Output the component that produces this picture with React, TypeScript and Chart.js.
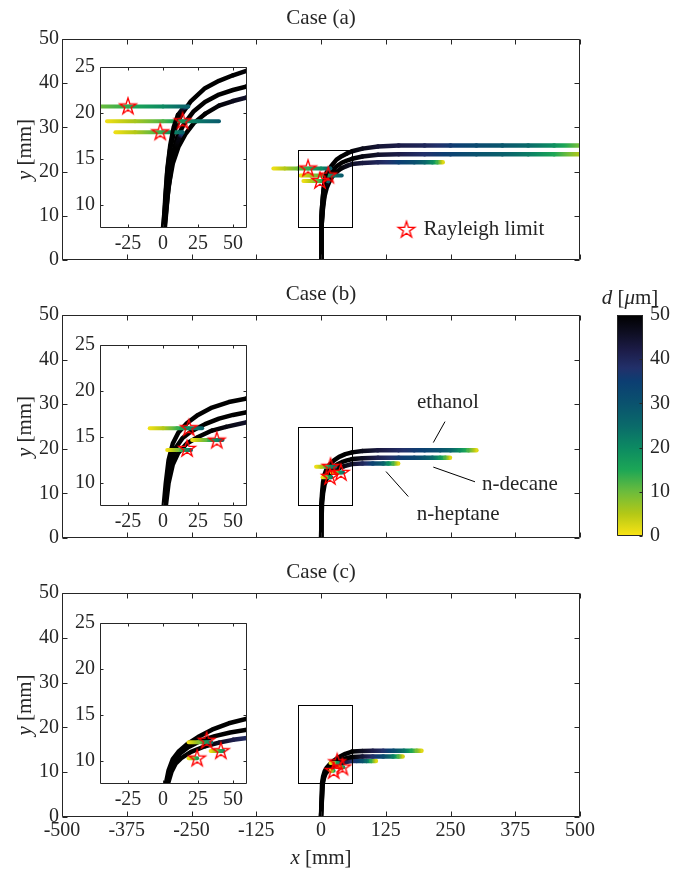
import React, { useEffect, useRef } from 'react';
import { Chart, registerables } from 'chart.js';
Chart.register(...registerables);

const FONT_FAMILY = '"Liberation Serif", "Times New Roman", serif';
const FONT_SIZE = 20;
const LABEL_SIZE = 21;
const INK = '#262626';

// ---------- axes ----------
const MAIN_X_TICKS = [-500, -375, -250, -125, 0, 125, 250, 375, 500];
const MAIN_Y_TICKS = [0, 10, 20, 30, 40, 50];
const INSET_X_RANGE = [-45, 60];
const INSET_Y_RANGE = [7.5, 25];
const INSET_X_TICKS = [-25, 0, 25, 50];
const INSET_Y_TICKS = [10, 15, 20, 25];
const CBAR_TICKS = [0, 10, 20, 30, 40, 50];
const CASE_TITLES = ['Case (a)', 'Case (b)', 'Case (c)'];

// ---------- colormap (d in micrometres) ----------
const CMAP_VALUES = [0, 5, 10, 15, 20, 25, 30, 35, 38, 42, 46, 50];
const CMAP_COLORS = ['#fbe414', '#b4c816', '#6cbc3c', '#1ca656', '#0c8a62', '#0a6a6a', '#0a526e', '#0c3e72', '#22306a', '#1c1c48', '#0e0e22', '#000000'];

// ---------- Case (a) ----------
const A_ETH_X = [0, 0, 1.5, 3, 5, 8, 13, 20, 30, 40, 50, 60, 80, 110, 150, 200, 250, 300, 350, 400, 450, 500];
const A_ETH_Y = [0, 7.5, 10, 13.5, 16, 18, 19.8, 21.3, 22.7, 23.5, 24.1, 24.6, 25.2, 25.7, 25.9, 25.9, 25.9, 25.9, 25.9, 25.9, 25.9, 25.9];
const A_ETH_D = [50, 50, 50, 50, 50, 50, 50, 50, 50, 50, 50, 49, 47, 44, 42, 40, 36, 32, 29, 25, 19, 9];
const A_DEC_X = [0, 0.5, 3, 6, 10, 15, 22, 30, 40, 50, 60, 80, 110, 150, 200, 250, 300, 350, 400, 450, 500];
const A_DEC_Y = [0, 7.5, 12, 15, 17.3, 18.8, 20.2, 21.2, 22, 22.5, 22.9, 23.4, 23.8, 23.9, 23.9, 23.9, 23.9, 23.9, 23.9, 23.9, 23.9];
const A_DEC_D = [50, 50, 50, 50, 50, 50, 50, 50, 50, 50, 50, 48, 45, 42, 38, 34, 30, 27, 22, 15, 5];
const A_HEP_X = [0, 1, 4, 7, 11, 16, 22, 30, 40, 50, 60, 80, 110, 150, 180, 200, 215, 225, 235];
const A_HEP_Y = [0, 7.5, 12, 14.5, 16.3, 17.7, 18.9, 19.9, 20.8, 21.3, 21.7, 21.95, 22.1, 22.1, 22.1, 22.1, 22.1, 22.1, 22.1];
const A_HEP_D = [50, 50, 50, 50, 50, 50, 50, 50, 49, 47, 45, 43, 40, 35, 31, 26, 20, 13, 2];
const A_FRAG1_X = [0, 0.3, 1.5, 3, 5, 7.5, 10.5, 14, 18, 0, -25, -45, -70, -92];
const A_FRAG1_Y = [0, 7.5, 11, 14, 16.5, 18.5, 19.8, 20.5, 20.7, 20.7, 20.7, 20.7, 20.7, 20.7];
const A_FRAG1_D = [50, 50, 50, 50, 50, 50, 50, 46, 27, 20, 14, 10, 5, 1];
const A_FRAG2_X = [40, 25, 14, 0, -20, -40];
const A_FRAG2_Y = [19.1, 19.1, 19.1, 19.1, 19.1, 19.1];
const A_FRAG2_D = [28, 23, 18, 12, 6, 1];
const A_FRAG3_X = [0, 1.5, 3.5, 6, 9, 11.5, 14, 0, -20, -34];
const A_FRAG3_Y = [0, 7.5, 11, 14, 16.2, 17.3, 17.9, 17.9, 17.9, 17.9];
const A_FRAG3_D = [50, 50, 50, 50, 50, 48, 26, 14, 5, 1];
const A_STAR_X = [-25, 14, -2];
const A_STAR_Y = [20.7, 19.1, 17.9];

// ---------- Case (b) ----------
const B_ETH_X = [0, 0.5, 2, 4, 7, 11, 17, 25, 35, 47, 60, 80, 110, 150, 180, 200, 230, 250, 268, 285, 300];
const B_ETH_Y = [0, 7.5, 10, 12.5, 14.3, 15.5, 16.5, 17.4, 18.2, 18.8, 19.2, 19.5, 19.65, 19.7, 19.7, 19.7, 19.7, 19.7, 19.7, 19.7, 19.7];
const B_ETH_D = [50, 50, 50, 50, 50, 50, 50, 50, 50, 50, 50, 47, 43, 39, 36, 34, 30, 26, 20, 12, 2];
const B_DEC_X = [0, 1, 3, 5, 9, 14, 20, 30, 40, 50, 60, 80, 110, 150, 180, 200, 215, 230, 240, 249];
const B_DEC_Y = [0, 7.5, 10, 12, 13.8, 14.9, 15.6, 16.4, 17, 17.4, 17.7, 17.9, 18, 18, 18, 18, 18, 18, 18, 18];
const B_DEC_D = [50, 50, 50, 50, 50, 50, 50, 50, 50, 50, 50, 46, 41, 36, 33, 29, 25, 18, 12, 2];
const B_HEP_X = [0, 2, 4, 7, 11, 17, 25, 35, 45, 60, 80, 100, 120, 130, 140, 149];
const B_HEP_Y = [0, 7.5, 10, 12, 13.3, 14.3, 15, 15.7, 16.1, 16.6, 16.7, 16.7, 16.7, 16.7, 16.7, 16.7];
const B_HEP_D = [50, 50, 50, 50, 50, 50, 50, 50, 48, 45, 40, 34, 27, 20, 12, 2];
const B_FRAG1_X = [28, 18.4, 10, 0, -9.5];
const B_FRAG1_Y = [15.96, 15.96, 15.96, 15.96, 15.96];
const B_FRAG1_D = [26, 20, 13, 5, 1];
const B_FRAG2_X = [42.5, 38.4, 30, 20.8];
const B_FRAG2_Y = [14.67, 14.67, 14.67, 14.67];
const B_FRAG2_D = [25, 21, 10, 1];
const B_FRAG3_X = [20, 17.2, 10, 3];
const B_FRAG3_Y = [13.6, 13.6, 13.6, 13.6];
const B_FRAG3_D = [25, 20, 8, 1];
const B_STAR_X = [18.4, 38.4, 17.2];
const B_STAR_Y = [15.96, 14.6, 13.7];

// ---------- Case (c) ----------
const C_ETH_X = [0, 2, 4, 7, 11, 17, 25, 35, 47, 60, 80, 100, 120, 140, 160, 175, 185, 194];
const C_ETH_Y = [0, 7.5, 9, 10.2, 11, 11.8, 12.6, 13.4, 14.1, 14.6, 14.75, 14.8, 14.8, 14.8, 14.8, 14.8, 14.8, 14.8];
const C_ETH_D = [50, 50, 50, 50, 50, 50, 50, 50, 50, 50, 46, 42, 38, 32, 24, 15, 9, 2];
const C_DEC_X = [0, 3, 5, 8, 12, 18, 27, 37, 48, 60, 80, 100, 120, 139, 150, 157.6];
const C_DEC_Y = [0, 7.5, 9, 10, 10.8, 11.5, 12.2, 12.7, 13.1, 13.4, 13.5, 13.5, 13.5, 13.5, 13.5, 13.5];
const C_DEC_D = [50, 50, 50, 50, 50, 50, 50, 50, 50, 50, 44, 38, 32, 22, 12, 3];
const C_HEP_X = [0, 3.5, 6, 9, 13, 20, 30, 40, 50, 60, 69, 80, 88, 97, 106];
const C_HEP_Y = [0, 7.5, 8.8, 9.7, 10.3, 11, 11.6, 12, 12.3, 12.5, 12.5, 12.5, 12.5, 12.5, 12.5];
const C_HEP_D = [50, 50, 50, 50, 50, 50, 50, 46, 42, 39, 36, 30, 25, 14, 2];
const C_FRAG1_X = [34.5, 31.2, 25, 18.3];
const C_FRAG1_Y = [12.05, 12.05, 12.05, 12.05];
const C_FRAG1_D = [24, 18, 8, 1];
const C_FRAG2_X = [43.2, 41.3, 38, 34];
const C_FRAG2_Y = [11.1, 11.1, 11.1, 11.1];
const C_FRAG2_D = [20, 16, 8, 1];
const C_FRAG3_X = [24.4, 21, 18.3];
const C_FRAG3_Y = [10.3, 10.3, 10.3];
const C_FRAG3_D = [16, 7, 1];
const C_STAR_X = [31.2, 41.3, 24.4];
const C_STAR_Y = [12.2, 11.06, 10.26];

// ---------- text annotations (data coordinates) ----------
const LEGEND_LABEL = 'Rayleigh limit';
const LEGEND_X = 165;
const LEGEND_Y = 6.8;
const ANNOT_TEXT = ['ethanol', 'n-decane', 'n-heptane'];
const ANNOT_TX = [245, 384, 265];
const ANNOT_TY = [30.3, 11.9, 5.2];
const ANNOT_LX0 = [239.4, 216.8, 125.5];
const ANNOT_LY0 = [26.1, 15.9, 14.9];
const ANNOT_LX1 = [216.8, 297.3, 168.5];
const ANNOT_LY1 = [21.4, 12.6, 9.3];

const CASES = [
  {
    main: [[A_ETH_X, A_ETH_Y, A_ETH_D], [A_DEC_X, A_DEC_Y, A_DEC_D], [A_HEP_X, A_HEP_Y, A_HEP_D]],
    frag: [[A_FRAG1_X, A_FRAG1_Y, A_FRAG1_D], [A_FRAG2_X, A_FRAG2_Y, A_FRAG2_D], [A_FRAG3_X, A_FRAG3_Y, A_FRAG3_D]],
    starX: A_STAR_X, starY: A_STAR_Y,
  },
  {
    main: [[B_ETH_X, B_ETH_Y, B_ETH_D], [B_DEC_X, B_DEC_Y, B_DEC_D], [B_HEP_X, B_HEP_Y, B_HEP_D]],
    frag: [[B_FRAG1_X, B_FRAG1_Y, B_FRAG1_D], [B_FRAG2_X, B_FRAG2_Y, B_FRAG2_D], [B_FRAG3_X, B_FRAG3_Y, B_FRAG3_D]],
    starX: B_STAR_X, starY: B_STAR_Y,
  },
  {
    main: [[C_ETH_X, C_ETH_Y, C_ETH_D], [C_DEC_X, C_DEC_Y, C_DEC_D], [C_HEP_X, C_HEP_Y, C_HEP_D]],
    frag: [[C_FRAG1_X, C_FRAG1_Y, C_FRAG1_D], [C_FRAG2_X, C_FRAG2_Y, C_FRAG2_D], [C_FRAG3_X, C_FRAG3_Y, C_FRAG3_D]],
    starX: C_STAR_X, starY: C_STAR_Y,
  },
];

// layout (pixels)
const MAIN_LAYOUT = [
  { top: 0, height: 280, padTop: 39, padBottom: 20, showX: false },
  { top: 280, height: 280, padTop: 35, padBottom: 22, showX: false },
  { top: 560, height: 310, padTop: 33, padBottom: 23, showX: true },
];
const INSET_TOPS = [50, 328, 606];

function hexToRgb(h: string) {
  const n = parseInt(h.slice(1), 16);
  return [(n >> 16) & 255, (n >> 8) & 255, n & 255];
}
const CMAP_RGB = CMAP_COLORS.map(hexToRgb);
function cmap(d: number) {
  const v = Math.max(0, Math.min(50, d));
  let i = 0;
  while (i < CMAP_VALUES.length - 2 && v > CMAP_VALUES[i + 1]) i++;
  const t = (v - CMAP_VALUES[i]) / (CMAP_VALUES[i + 1] - CMAP_VALUES[i]);
  const a = CMAP_RGB[i], b = CMAP_RGB[i + 1];
  const c = a.map((x, k) => Math.round(x + (b[k] - x) * t));
  return `rgb(${c[0]},${c[1]},${c[2]})`;
}

function segColor(ctx: any, d: number[]) {
  const d0 = d[ctx.p0DataIndex], d1 = d[ctx.p1DataIndex];
  if (d0 === d1) return cmap(d0);
  const g = ctx.chart.ctx.createLinearGradient(ctx.p0.x, ctx.p0.y, ctx.p1.x, ctx.p1.y);
  for (let k = 0; k <= 8; k++) {
    const t = k / 8;
    g.addColorStop(t, cmap(d0 + (d1 - d0) * t));
  }
  return g;
}

function makeStar(R = 8.6) {
  const size = Math.ceil(2 * R + 4);
  const c = document.createElement('canvas');
  c.width = size; c.height = size;
  const g = c.getContext('2d') as CanvasRenderingContext2D;
  const cx = size / 2, cy = size / 2;
  const r = R * 0.382;
  g.beginPath();
  for (let k = 0; k < 10; k++) {
    const ang = -Math.PI / 2 + (k * Math.PI) / 5;
    const rad = k % 2 === 0 ? R : r;
    const px = cx + rad * Math.cos(ang), py = cy + rad * Math.sin(ang);
    if (k === 0) g.moveTo(px, py); else g.lineTo(px, py);
  }
  g.closePath();
  g.strokeStyle = '#ff0000';
  g.lineWidth = 1.4;
  g.stroke();
  return c;
}

function buildDatasets(c: any, star: any) {
  const ds: any[] = [];
  ds.push({
    data: c.starX.map((x: number, i: number) => ({ x, y: c.starY[i] })),
    showLine: false, pointStyle: star, pointRadius: 9, order: 0, clip: 0,
  });
  c.frag.forEach((t: any) => {
    const [X, Y, D] = t;
    ds.push({
      data: X.map((x: number, i: number) => ({ x, y: Y[i] })),
      showLine: true, pointRadius: 0, borderWidth: 4, borderColor: '#000', tension: 0,
      borderCapStyle: 'round', borderJoinStyle: 'round', order: 1, clip: 0,
      segment: { borderColor: (ctx: any) => segColor(ctx, D) },
    });
  });
  c.main.forEach((t: any) => {
    const [X, Y, D] = t;
    ds.push({
      data: X.map((x: number, i: number) => ({ x, y: Y[i] })),
      showLine: true, pointRadius: 0, borderWidth: 4.5, borderColor: '#000', tension: 0,
      borderCapStyle: 'round', borderJoinStyle: 'round', order: 2, clip: 0,
      segment: { borderColor: (ctx: any) => segColor(ctx, D) },
    });
  });
  return ds;
}

const font = (italic = false, size = LABEL_SIZE) => `${italic ? 'italic ' : ''}${size}px ${FONT_FAMILY}`;

function drawMixed(ctx: CanvasRenderingContext2D, parts: [string, boolean][], cx: number, cy: number, rot = 0) {
  ctx.save();
  ctx.translate(cx, cy);
  ctx.rotate(rot);
  ctx.textBaseline = 'middle';
  ctx.textAlign = 'left';
  ctx.fillStyle = INK;
  let total = 0;
  const widths = parts.map(([s, it]) => { ctx.font = font(it); const w = ctx.measureText(s).width; total += w; return w; });
  let x = -total / 2;
  parts.forEach(([s, it], i) => { ctx.font = font(it); ctx.fillText(s, x, 0); x += widths[i]; });
  ctx.restore();
}

function drawBox(ctx: CanvasRenderingContext2D, a: any, xs: any, ys: any, xt: number[], yt: number[], len: number) {
  ctx.save();
  ctx.strokeStyle = INK;
  ctx.lineWidth = 1;
  const L = Math.round(a.left) + 0.5, R = Math.round(a.right) - 0.5;
  const T = Math.round(a.top) + 0.5, B = Math.round(a.bottom) - 0.5;
  ctx.beginPath();
  ctx.rect(L, T, R - L, B - T);
  xt.forEach((v) => {
    const p = Math.round(xs.getPixelForValue(v)) + 0.5;
    ctx.moveTo(p, B); ctx.lineTo(p, B - len);
    ctx.moveTo(p, T); ctx.lineTo(p, T + len);
  });
  yt.forEach((v) => {
    const p = Math.round(ys.getPixelForValue(v)) + 0.5;
    ctx.moveTo(L, p); ctx.lineTo(L + len, p);
    ctx.moveTo(R, p); ctx.lineTo(R - len, p);
  });
  ctx.stroke();
  ctx.restore();
}

function tickFont() { return { family: FONT_FAMILY, size: FONT_SIZE }; }

function mainConfig(idx: number, star: any) {
  const L = MAIN_LAYOUT[idx];
  const c = CASES[idx];
  const plugin = {
    id: 'mainDecor' + idx,
    afterDraw(chart: any) {
      const { ctx, chartArea: a, scales } = chart;
      const xs = scales.x, ys = scales.y;
      drawBox(ctx, a, xs, ys, MAIN_X_TICKS, MAIN_Y_TICKS, 5);
      ctx.save();
      // zoom rectangle
      const rx0 = xs.getPixelForValue(INSET_X_RANGE[0]), rx1 = xs.getPixelForValue(INSET_X_RANGE[1]);
      const ry0 = ys.getPixelForValue(INSET_Y_RANGE[0]), ry1 = ys.getPixelForValue(INSET_Y_RANGE[1]);
      ctx.strokeStyle = '#000';
      ctx.lineWidth = 1;
      ctx.strokeRect(Math.round(rx0) + 0.5, Math.round(ry1) + 0.5, Math.round(rx1 - rx0), Math.round(ry0 - ry1));
      // title
      ctx.font = font();
      ctx.fillStyle = INK;
      ctx.textAlign = 'center';
      ctx.textBaseline = 'middle';
      ctx.fillText(CASE_TITLES[idx], (a.left + a.right) / 2, a.top - 21);
      ctx.restore();
      drawMixed(ctx, [['y', true], [' [mm]', false]], 25, (a.top + a.bottom) / 2, -Math.PI / 2);
      if (L.showX) drawMixed(ctx, [['x', true], [' [mm]', false]], (a.left + a.right) / 2, a.bottom + 41, 0);
      if (idx === 0) {
        const px = xs.getPixelForValue(LEGEND_X), py = ys.getPixelForValue(LEGEND_Y);
        ctx.drawImage(star, px - star.width / 2, py - star.height / 2);
        ctx.save();
        ctx.font = font();
        ctx.fillStyle = INK;
        ctx.textAlign = 'left';
        ctx.textBaseline = 'middle';
        ctx.fillText(LEGEND_LABEL, px + 17, py);
        ctx.restore();
      }
      if (idx === 1) {
        ctx.save();
        ctx.font = font();
        ctx.fillStyle = INK;
        ctx.textAlign = 'center';
        ctx.textBaseline = 'middle';
        ctx.strokeStyle = '#000';
        ctx.lineWidth = 1;
        ANNOT_TEXT.forEach((s, i) => {
          ctx.fillText(s, xs.getPixelForValue(ANNOT_TX[i]), ys.getPixelForValue(ANNOT_TY[i]));
          ctx.beginPath();
          ctx.moveTo(xs.getPixelForValue(ANNOT_LX0[i]), ys.getPixelForValue(ANNOT_LY0[i]));
          ctx.lineTo(xs.getPixelForValue(ANNOT_LX1[i]), ys.getPixelForValue(ANNOT_LY1[i]));
          ctx.stroke();
        });
        ctx.restore();
      }
    },
  };
  return {
    type: 'line',
    data: { datasets: buildDatasets(c, star) },
    options: {
      responsive: false, animation: false, events: [],
      layout: { padding: { left: 0, right: 93, top: L.padTop, bottom: L.padBottom } },
      plugins: { legend: { display: false }, tooltip: { enabled: false }, title: { display: false } },
      scales: {
        x: {
          type: 'linear', min: -500, max: 500,
          afterBuildTicks: (s: any) => { s.ticks = MAIN_X_TICKS.map((v) => ({ value: v })); },
          afterFit: (s: any) => { s.height = L.showX ? 30 : 0; },
          grid: { display: false, drawTicks: false }, border: { display: false },
          ticks: { display: L.showX, font: tickFont(), color: INK, padding: 2, autoSkip: false, maxRotation: 0, callback: (v: any) => String(v) },
        },
        y: {
          type: 'linear', min: 0, max: 50,
          afterBuildTicks: (s: any) => { s.ticks = MAIN_Y_TICKS.map((v) => ({ value: v })); },
          afterFit: (s: any) => { s.width = 62; },
          grid: { display: false, drawTicks: false }, border: { display: false },
          ticks: { font: tickFont(), color: INK, padding: 3, autoSkip: false, callback: (v: any) => String(v) },
        },
      },
    },
    plugins: [plugin],
  };
}

function insetConfig(idx: number, star: any) {
  const c = CASES[idx];
  const plugin = {
    id: 'insetDecor' + idx,
    beforeDatasetsDraw(chart: any) {
      const { ctx, chartArea: a } = chart;
      ctx.save();
      ctx.fillStyle = '#fff';
      ctx.fillRect(a.left, a.top, a.right - a.left, a.bottom - a.top);
      ctx.restore();
    },
    afterDraw(chart: any) {
      const { ctx, chartArea: a, scales } = chart;
      drawBox(ctx, a, scales.x, scales.y, INSET_X_TICKS, INSET_Y_TICKS, 3);
    },
  };
  return {
    type: 'line',
    data: { datasets: buildDatasets(c, star) },
    options: {
      responsive: false, animation: false, events: [],
      layout: { padding: { left: 0, right: 10, top: 11, bottom: 6 } },
      plugins: { legend: { display: false }, tooltip: { enabled: false }, title: { display: false } },
      scales: {
        x: {
          type: 'linear', min: INSET_X_RANGE[0], max: INSET_X_RANGE[1],
          afterBuildTicks: (s: any) => { s.ticks = INSET_X_TICKS.map((v) => ({ value: v })); },
          afterFit: (s: any) => { s.height = 22; },
          grid: { display: false, drawTicks: false }, border: { display: false },
          ticks: { font: tickFont(), color: INK, padding: 4, autoSkip: false, maxRotation: 0, callback: (v: any) => String(v) },
        },
        y: {
          type: 'linear', min: INSET_Y_RANGE[0], max: INSET_Y_RANGE[1],
          afterBuildTicks: (s: any) => { s.ticks = INSET_Y_TICKS.map((v) => ({ value: v })); },
          afterFit: (s: any) => { s.width = 30; },
          grid: { display: false, drawTicks: false }, border: { display: false },
          ticks: { font: tickFont(), color: INK, padding: 5, autoSkip: false, callback: (v: any) => String(v) },
        },
      },
    },
    plugins: [plugin],
  };
}

function cbarConfig() {
  const plugin = {
    id: 'cbarDecor',
    beforeDatasetsDraw(chart: any) {
      const { ctx, chartArea: a } = chart;
      const g = ctx.createLinearGradient(0, a.bottom, 0, a.top);
      CMAP_VALUES.forEach((v, i) => g.addColorStop(v / 50, CMAP_COLORS[i]));
      ctx.save();
      ctx.fillStyle = g;
      ctx.fillRect(a.left, a.top, a.right - a.left, a.bottom - a.top);
      ctx.restore();
    },
    afterDraw(chart: any) {
      const { ctx, chartArea: a, scales } = chart;
      const ys = scales.y;
      ctx.save();
      ctx.strokeStyle = INK;
      ctx.lineWidth = 1;
      const L = Math.round(a.left) + 0.5, R = Math.round(a.right) - 0.5;
      const T = Math.round(a.top) + 0.5, B = Math.round(a.bottom) - 0.5;
      ctx.beginPath();
      ctx.rect(L, T, R - L, B - T);
      CBAR_TICKS.forEach((v) => {
        const p = Math.round(ys.getPixelForValue(v)) + 0.5;
        ctx.moveTo(R, p); ctx.lineTo(R - 3, p);
      });
      ctx.stroke();
      ctx.restore();
      drawMixed(ctx, [['d', true], [' [', false], ['μ', true], ['m]', false]], (a.left + a.right) / 2, a.top - 17, 0);
    },
  };
  return {
    type: 'line',
    data: { datasets: [] },
    options: {
      responsive: false, animation: false, events: [],
      layout: { padding: { left: 17, right: 0, top: 30, bottom: 17 } },
      plugins: { legend: { display: false }, tooltip: { enabled: false } },
      scales: {
        x: { type: 'linear', min: 0, max: 1, display: false },
        y: {
          type: 'linear', position: 'right', min: 0, max: 50,
          afterBuildTicks: (s: any) => { s.ticks = CBAR_TICKS.map((v) => ({ value: v })); },
          afterFit: (s: any) => { s.width = 30; },
          grid: { display: false, drawTicks: false }, border: { display: false },
          ticks: { font: tickFont(), color: INK, padding: 7, autoSkip: false, callback: (v: any) => String(v) },
        },
      },
    },
    plugins: [plugin],
  };
}

export default function App() {
  const m0 = useRef<HTMLCanvasElement>(null);
  const m1 = useRef<HTMLCanvasElement>(null);
  const m2 = useRef<HTMLCanvasElement>(null);
  const i0 = useRef<HTMLCanvasElement>(null);
  const i1 = useRef<HTMLCanvasElement>(null);
  const i2 = useRef<HTMLCanvasElement>(null);
  const cb = useRef<HTMLCanvasElement>(null);

  useEffect(() => {
    const star = makeStar();
    const mains = [m0, m1, m2];
    const insets = [i0, i1, i2];
    const charts: Chart[] = [];
    for (let k = 0; k < 3; k++) {
      charts.push(new Chart(mains[k].current as any, mainConfig(k, star) as any));
      charts.push(new Chart(insets[k].current as any, insetConfig(k, star) as any));
    }
    charts.push(new Chart(cb.current as any, cbarConfig() as any));
    return () => charts.forEach((ch) => ch.destroy());
  }, []);

  const abs = (left: number, top: number): React.CSSProperties => ({ position: 'absolute', left, top, display: 'block' });
  return (
    <div style={{ position: 'absolute', left: 0, top: 0, width: 673, height: 870, background: '#fff', overflow: 'hidden' }}>
      <canvas ref={m0} width={673} height={MAIN_LAYOUT[0].height} style={abs(0, MAIN_LAYOUT[0].top)} />
      <canvas ref={m1} width={673} height={MAIN_LAYOUT[1].height} style={abs(0, MAIN_LAYOUT[1].top)} />
      <canvas ref={m2} width={673} height={MAIN_LAYOUT[2].height} style={abs(0, MAIN_LAYOUT[2].top)} />
      <canvas ref={i0} width={187} height={206} style={abs(70, INSET_TOPS[0])} />
      <canvas ref={i1} width={187} height={206} style={abs(70, INSET_TOPS[1])} />
      <canvas ref={i2} width={187} height={206} style={abs(70, INSET_TOPS[2])} />
      <canvas ref={cb} width={73} height={270} style={abs(600, 285)} />
    </div>
  );
}
